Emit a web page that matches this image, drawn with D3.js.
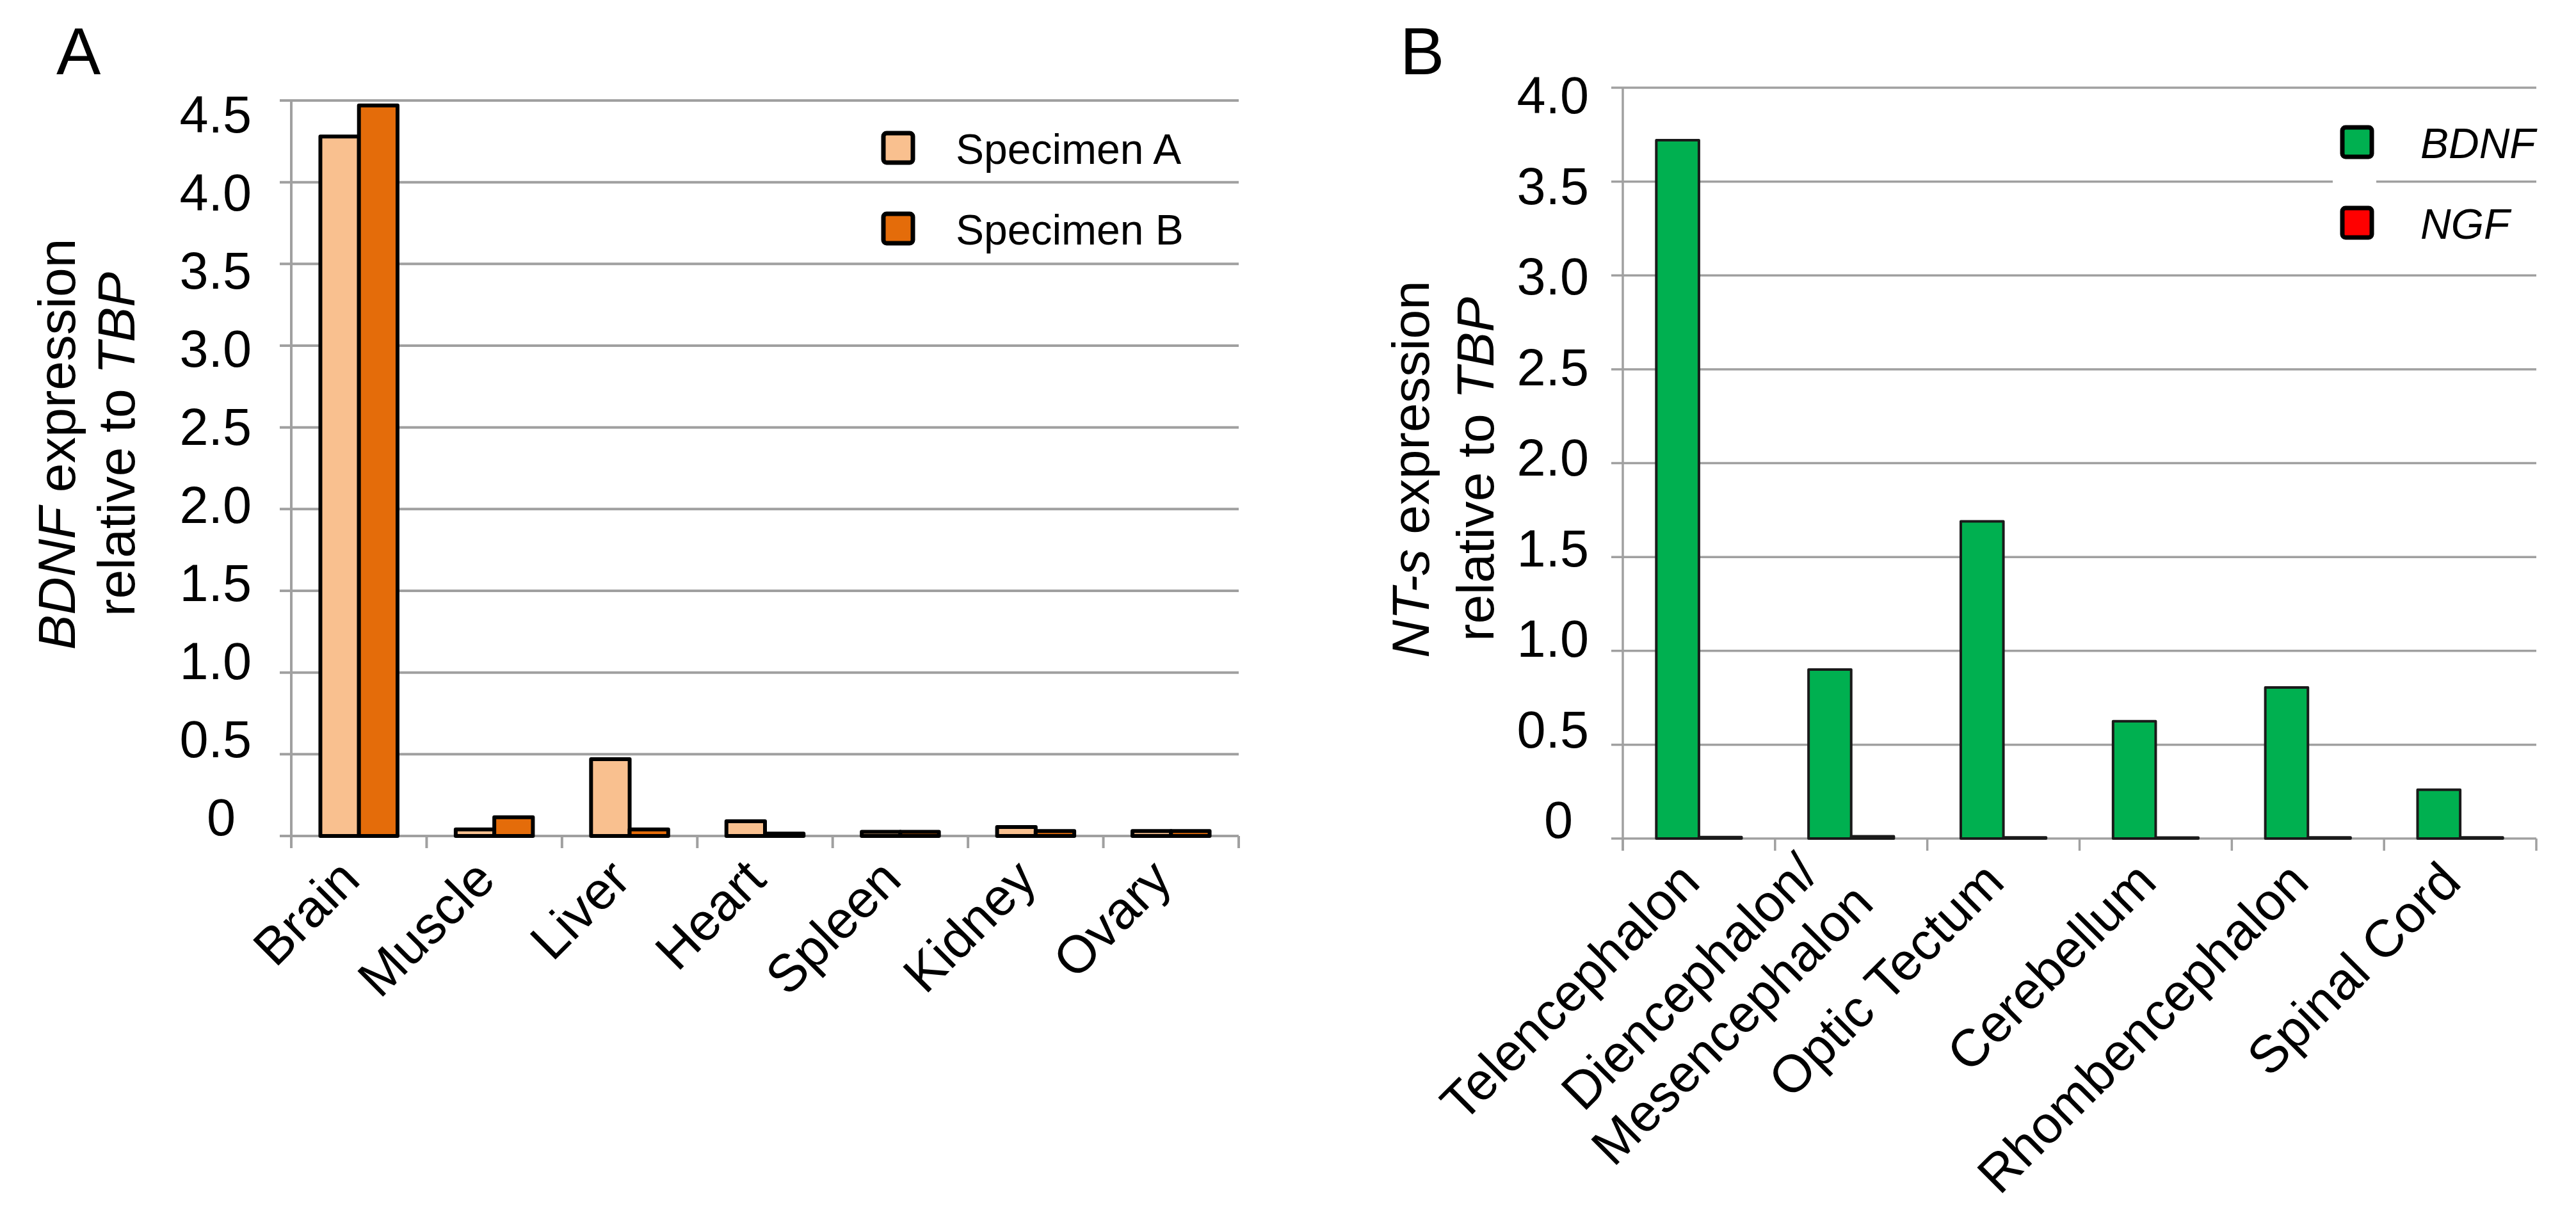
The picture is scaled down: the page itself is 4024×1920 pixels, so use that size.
<!DOCTYPE html>
<html>
<head>
<meta charset="utf-8">
<script src="https://cdn.jsdelivr.net/npm/d3@7"></script>
<style>
  body { margin: 0; background: #fff; }
  text { font-family: "Liberation Sans", Arial, sans-serif; fill: #000; }
</style>
</head>
<body>
<script>
// panel A data
var tissues = ["Brain", "Muscle", "Liver", "Heart", "Spleen", "Kidney", "Ovary"];
var specimenA = [4.28, 0.04, 0.47, 0.09, 0.025, 0.055, 0.03];
var specimenB = [4.47, 0.115, 0.04, 0.015, 0.025, 0.03, 0.03];
var ticksA = [0, 0.5, 1.0, 1.5, 2.0, 2.5, 3.0, 3.5, 4.0, 4.5];

// panel B data
var regions = [["Telencephalon"], ["Diencephalon/", "Mesencephalon"], ["Optic Tectum"],
               ["Cerebellum"], ["Rhombencephalon"], ["Spinal Cord"]];
var bdnf = [3.72, 0.9, 1.69, 0.625, 0.805, 0.26];
var ngf = [0.008, 0.012, 0.006, 0.005, 0.006, 0.006];
var ticksB = [0, 0.5, 1.0, 1.5, 2.0, 2.5, 3.0, 3.5, 4.0];

var W = 4024, H = 1920;
var gridColor = "#a0a0a0";

var svg = d3.select("body").append("svg")
    .attr("width", W)
    .attr("height", H);

function fmt(d) { return d === 0 ? "0" : d3.format(".1f")(d); }

function panel(o) {
    var g = svg.append("g");

    var x0 = d3.scaleBand()
        .domain(d3.range(o.cats.length))
        .range([o.left, o.right])
        .paddingInner(o.pad)
        .paddingOuter(o.pad / 2);
    var x1 = d3.scaleBand()
        .domain(o.series.map(function(s) { return s.name; }))
        .range([0, x0.bandwidth()]);
    var y = d3.scaleLinear().domain([0, o.max]).range([o.bottom, o.top]);
    // tick labels sit on a slightly tighter spacing than the gridlines
    var yl = d3.scaleLinear().domain([0, o.max]).range([o.labBottom, o.labTop]);

    // gridlines
    g.selectAll(".grid").data(o.ticks.filter(function(d) { return d > 0; }))
      .enter().append("line")
        .attr("x1", o.left - 18)
        .attr("x2", o.right)
        .attr("y1", function(d) { return y(d); })
        .attr("y2", function(d) { return y(d); })
        .attr("stroke", gridColor)
        .attr("stroke-width", o.gridW);

    // legend backdrop (only B breaks its gridline)
    if (o.legendGap) {
        g.append("rect")
            .attr("x", o.legendX - 38).attr("y", o.legendY - 40)
            .attr("width", 68).attr("height", o.legendStep + 80)
            .attr("fill", "#fff");
    }

    // y axis + baseline
    g.append("line")
        .attr("x1", o.left).attr("x2", o.left)
        .attr("y1", y(o.max)).attr("y2", y(0) + 19)
        .attr("stroke", gridColor).attr("stroke-width", o.gridW);
    g.append("line")
        .attr("x1", o.left - 18).attr("x2", o.right)
        .attr("y1", y(0)).attr("y2", y(0))
        .attr("stroke", gridColor).attr("stroke-width", o.gridW);

    var gap = (x0.step() - x0.bandwidth()) / 2;
    g.selectAll(".xt").data(d3.range(o.cats.length + 1))
      .enter().append("line")
        .attr("x1", function(i) { return i < o.cats.length ? x0(i) - gap : x0(i - 1) + x0.bandwidth() + gap; })
        .attr("x2", function(i) { return i < o.cats.length ? x0(i) - gap : x0(i - 1) + x0.bandwidth() + gap; })
        .attr("y1", y(0)).attr("y2", y(0) + 19)
        .attr("stroke", gridColor).attr("stroke-width", o.gridW);

    // bars
    o.series.forEach(function(s) {
        g.selectAll(".bar-" + s.key).data(s.values)
          .enter().append("rect")
            .attr("x", function(d, i) { return x0(i) + x1(s.name); })
            .attr("y", function(d) { return y(d); })
            .attr("width", x1.bandwidth())
            .attr("height", function(d) { return y(0) - y(d); })
            .attr("fill", s.fill)
            .attr("stroke", o.barStroke)
            .attr("stroke-width", o.barW)
            .attr("stroke-linejoin", "round");
    });

    // y tick labels
    g.selectAll(".yl").data(o.ticks)
      .enter().append("text")
        .attr("x", function(d) { return d === 0 ? o.labX - 25 : o.labX; })
        .attr("y", function(d) { return yl(d); })
        .attr("text-anchor", "end")
        .style("font-size", "81px")
        .text(fmt);

    // x labels, rotated
    var lh = 94;
    var labs = g.selectAll(".xl").data(o.cats)
      .enter().append("g")
        .attr("transform", function(d, i) {
            return "translate(" + (x0(i) + x0.bandwidth() / 2 + 5) + "," + (y(0) + 72) + ") rotate(-45)";
        });
    labs.each(function(lines) {
        var sel = d3.select(this);
        var texts = lines.map(function(line, k) {
            return sel.append("text")
                .attr("text-anchor", "end")
                .attr("y", (k - (lines.length - 1) / 2) * lh)
                .style("font-size", "82px")
                .text(line);
        });
        var lens = texts.map(function(t) { return t.node().getComputedTextLength(); });
        var maxLen = d3.max(lens);
        texts.forEach(function(t, k) { t.attr("x", -(maxLen - lens[k]) / 2); });
    });

    // y title, two rotated lines
    o.title.forEach(function(parts, k) {
        var t = g.append("text")
            .attr("transform", "translate(" + o.titleX[k] + "," + o.titleY + ") rotate(-90)")
            .attr("text-anchor", "middle")
            .style("font-size", "82px");
        parts.forEach(function(p) {
            t.append("tspan").style("font-style", p[1] ? "italic" : "normal").text(p[0]);
        });
    });

    // panel letter
    g.append("text")
        .attr("x", o.letterX).attr("y", 116)
        .style("font-size", "104px")
        .text(o.letter);

    // legend
    o.series.forEach(function(s, k) {
        var cy = o.legendY + k * o.legendStep;
        g.append("rect")
            .attr("x", o.legendX - 23).attr("y", cy - 23)
            .attr("width", 46).attr("height", 46)
            .attr("rx", 5)
            .attr("fill", s.fill)
            .attr("stroke", "#000")
            .attr("stroke-width", 7);
        g.append("text")
            .attr("x", o.legendTextX)
            .attr("y", cy + 25)
            .style("font-size", "66px")
            .style("font-style", o.legendItalic ? "italic" : "normal")
            .text(s.name);
    });
}

panel({
    letter: "A", letterX: 88,
    cats: tissues.map(function(d) { return [d]; }),
    series: [
        { key: "a", name: "Specimen A", values: specimenA, fill: "#f9c08f" },
        { key: "b", name: "Specimen B", values: specimenB, fill: "#e46c0a" }
    ],
    ticks: ticksA, max: 4.5,
    left: 455, right: 1935, top: 157, bottom: 1306,
    labTop: 207, labBottom: 1305, labX: 393,
    pad: 0.43, gridW: 4, barStroke: "#000", barW: 6,
    title: [[["BDNF", true], [" expression", false]], [["relative to ", false], ["TBP", true]]],
    titleX: [117, 210], titleY: 694,
    legendX: 1403, legendY: 231, legendStep: 126, legendTextX: 1493, legendItalic: false
});

panel({
    letter: "B", letterX: 2187,
    cats: regions,
    series: [
        { key: "bdnf", name: "BDNF", values: bdnf, fill: "#00b050" },
        { key: "ngf", name: "NGF", values: ngf, fill: "#ff0000" }
    ],
    ticks: ticksB, max: 4.0,
    left: 2535, right: 3962, top: 137, bottom: 1310,
    labTop: 177, labBottom: 1309, labX: 2482,
    pad: 0.44, gridW: 3.5, barStroke: "#1a1a1a", barW: 4,
    title: [[["NT-s", true], [" expression", false]], [["relative to ", false], ["TBP", true]]],
    titleX: [2232, 2333], titleY: 733,
    legendX: 3682, legendY: 222, legendStep: 126, legendTextX: 3781, legendItalic: true,
    legendGap: true
});
</script>
</body>
</html>
